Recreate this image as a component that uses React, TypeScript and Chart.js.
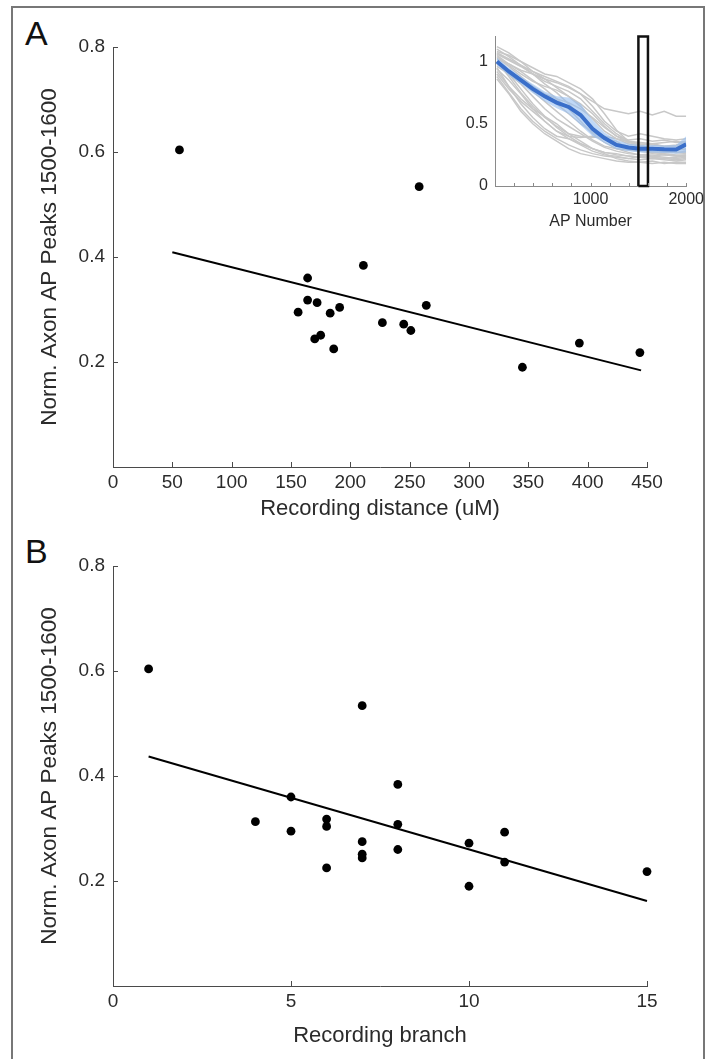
import React, { useEffect, useRef } from 'react';
import { Chart, registerables } from 'chart.js';

Chart.register(...registerables);

// ---------- Data: panel A / B (same 19 recordings) ----------
const recordingDistance = [56, 258, 211, 164, 164, 172, 156, 183, 191, 264, 227, 245, 251, 175, 170, 186, 345, 393, 444];
const recordingBranch = [1, 7, 8, 5, 6, 4, 5, 11, 6, 8, 7, 10, 8, 7, 7, 6, 10, 11, 15];
const normPeaks = [0.604, 0.534, 0.384, 0.36, 0.318, 0.313, 0.295, 0.293, 0.304, 0.308, 0.275, 0.272, 0.26, 0.251, 0.244, 0.225, 0.19, 0.236, 0.218];

const fitDistanceX = [50, 445];
const fitDistanceY = [0.409, 0.184];
const fitBranchX = [1, 15];
const fitBranchY = [0.437, 0.162];

const distanceTicks = [0, 50, 100, 150, 200, 250, 300, 350, 400, 450];
const branchTicks = [0, 5, 10, 15];
const peakTicks = [0.2, 0.4, 0.6, 0.8];

// ---------- Data: inset (normalized AP peaks vs AP number) ----------
const apNumber = [20, 145, 270, 395, 520, 645, 770, 895, 1020, 1145, 1270, 1395, 1520, 1645, 1770, 1895, 2000];
const meanPeak = [1.0, 0.92, 0.85, 0.78, 0.72, 0.67, 0.635, 0.57, 0.46, 0.385, 0.33, 0.31, 0.3, 0.3, 0.295, 0.293, 0.335];
const meanUpper = [1.03, 0.95, 0.88, 0.82, 0.76, 0.72, 0.71, 0.66, 0.53, 0.43, 0.37, 0.34, 0.33, 0.33, 0.325, 0.33, 0.4];
const meanLower = [0.97, 0.89, 0.82, 0.745, 0.68, 0.625, 0.58, 0.49, 0.4, 0.345, 0.295, 0.28, 0.27, 0.27, 0.265, 0.26, 0.27];
const cellTraces = [
  [0.86, 0.74, 0.6, 0.5, 0.42, 0.36, 0.3, 0.26, 0.24, 0.22, 0.2, 0.19, 0.19, 0.2, 0.18, 0.19, 0.19],
  [0.95, 0.8, 0.66, 0.55, 0.46, 0.4, 0.38, 0.33, 0.28, 0.25, 0.24, 0.22, 0.21, 0.22, 0.21, 0.2, 0.21],
  [0.9, 0.78, 0.68, 0.6, 0.52, 0.44, 0.4, 0.39, 0.4, 0.38, 0.36, 0.3, 0.28, 0.27, 0.26, 0.25, 0.25],
  [1.0, 0.9, 0.78, 0.66, 0.56, 0.47, 0.4, 0.34, 0.3, 0.27, 0.25, 0.24, 0.23, 0.24, 0.23, 0.22, 0.23],
  [1.05, 0.98, 0.92, 0.85, 0.78, 0.7, 0.62, 0.52, 0.42, 0.35, 0.3, 0.27, 0.25, 0.26, 0.25, 0.24, 0.24],
  [1.08, 1.05, 1.0, 0.95, 0.9, 0.88, 0.83, 0.78, 0.7, 0.58, 0.45, 0.36, 0.33, 0.34, 0.32, 0.33, 0.35],
  [1.02, 0.98, 0.93, 0.9, 0.86, 0.83, 0.79, 0.74, 0.68, 0.62, 0.6, 0.58, 0.6, 0.57, 0.6, 0.56, 0.56],
  [1.1, 1.04, 0.97, 0.9, 0.84, 0.8, 0.76, 0.7, 0.6, 0.5, 0.42, 0.36, 0.34, 0.33, 0.32, 0.32, 0.33],
  [0.98, 0.92, 0.85, 0.76, 0.68, 0.6, 0.52, 0.44, 0.37, 0.32, 0.3, 0.29, 0.28, 0.27, 0.28, 0.27, 0.27],
  [1.03, 0.96, 0.88, 0.8, 0.74, 0.7, 0.67, 0.62, 0.55, 0.47, 0.4, 0.35, 0.33, 0.3, 0.29, 0.3, 0.29],
  [0.94, 0.85, 0.74, 0.62, 0.52, 0.44, 0.38, 0.34, 0.3, 0.27, 0.26, 0.24, 0.23, 0.22, 0.22, 0.21, 0.22],
  [1.06, 1.01, 0.96, 0.9, 0.82, 0.75, 0.66, 0.56, 0.46, 0.39, 0.34, 0.31, 0.29, 0.28, 0.27, 0.27, 0.26],
  [0.92, 0.8, 0.7, 0.62, 0.56, 0.5, 0.42, 0.36, 0.3, 0.26, 0.22, 0.2, 0.19, 0.18, 0.19, 0.18, 0.18],
  [1.12, 1.07, 1.0, 0.92, 0.86, 0.79, 0.72, 0.66, 0.58, 0.48, 0.4, 0.37, 0.38, 0.36, 0.37, 0.35, 0.36],
  [0.99, 0.93, 0.86, 0.8, 0.72, 0.66, 0.58, 0.5, 0.43, 0.38, 0.34, 0.32, 0.3, 0.31, 0.3, 0.29, 0.3],
  [1.0, 0.88, 0.75, 0.64, 0.55, 0.48, 0.42, 0.4, 0.39, 0.4, 0.38, 0.34, 0.32, 0.3, 0.28, 0.27, 0.28],
  [1.04, 0.97, 0.9, 0.84, 0.8, 0.77, 0.72, 0.64, 0.54, 0.44, 0.38, 0.36, 0.35, 0.34, 0.35, 0.36, 0.34],
  [0.88, 0.75, 0.62, 0.52, 0.44, 0.38, 0.33, 0.29, 0.26, 0.24, 0.23, 0.22, 0.24, 0.23, 0.22, 0.23, 0.24],
  [1.07, 1.02, 0.97, 0.92, 0.88, 0.84, 0.8, 0.74, 0.64, 0.52, 0.44, 0.4, 0.42, 0.4, 0.38, 0.37, 0.38],
  [0.96, 0.9, 0.82, 0.72, 0.62, 0.54, 0.48, 0.42, 0.36, 0.31, 0.28, 0.26, 0.25, 0.24, 0.25, 0.24, 0.25],
];
const windowX = [1500, 1500, 1600, 1600, 1500];
const windowY = [0, 1.2, 1.2, 0, 0];
const insetXTicks = [0, 200, 400, 600, 800, 1000, 1200, 1400, 1600, 1800, 2000];
const insetXLabels = [1000, 2000];
const insetYTicks = [0, 0.5, 1];

// ---------- Styling ----------
const FONT = '"Liberation Sans", Arial, Helvetica, sans-serif';
const TXT = '#2b2b2b';
const AXIS = '#4a4a4a';
const BLUE = '#3a6fca';

const inwardTicks = {
  id: 'inwardTicks',
  afterDraw(chart: any, _args: any, opts: any) {
    const { ctx, chartArea } = chart;
    const xs = chart.scales.x;
    const ys = chart.scales.y;
    ctx.save();
    ctx.strokeStyle = opts.color || AXIS;
    ctx.lineWidth = 1;
    ctx.beginPath();
    if (opts.xLen) {
      xs.ticks.forEach((t: any) => {
        const px = Math.round(xs.getPixelForValue(t.value)) + 0.5;
        ctx.moveTo(px, chartArea.bottom);
        ctx.lineTo(px, chartArea.bottom - opts.xLen);
      });
    }
    if (opts.yLen) {
      ys.ticks.forEach((t: any) => {
        const py = Math.round(ys.getPixelForValue(t.value)) + 0.5;
        ctx.moveTo(chartArea.left, py);
        ctx.lineTo(chartArea.left + opts.yLen, py);
      });
    }
    ctx.stroke();
    ctx.restore();
  },
};

function pts(xs: number[], ys: number[]) {
  return xs.map((x, i) => ({ x, y: ys[i] }));
}

function mainConfig(p: {
  xs: number[];
  fitX: number[];
  fitY: number[];
  xTicks: number[];
  xMax: number;
  xTitle: string;
  padTop: number;
  xScaleH: number;
  xTitlePad: number;
}): any {
  return {
    type: 'scatter',
    data: {
      datasets: [
        {
          data: pts(p.xs, normPeaks),
          backgroundColor: '#000',
          borderColor: '#000',
          pointRadius: 4.4,
          pointHoverRadius: 4.4,
          borderWidth: 0,
          clip: false,
          order: 0,
        },
        {
          data: pts(p.fitX, p.fitY),
          showLine: true,
          borderColor: '#000',
          borderWidth: 2,
          pointRadius: 0,
          clip: false,
          order: 1,
        },
      ],
    },
    options: {
      responsive: false,
      animation: false,
      events: [],
      layout: { padding: { top: p.padTop, right: 61, left: 0, bottom: 0 } },
      plugins: {
        legend: { display: false },
        tooltip: { enabled: false },
        inwardTicks: { xLen: 5, yLen: 5, color: AXIS },
      },
      scales: {
        x: {
          type: 'linear',
          min: 0,
          max: p.xMax,
          afterBuildTicks: (s: any) => {
            s.ticks = p.xTicks.map((v) => ({ value: v }));
          },
          afterFit: (s: any) => {
            s.height = p.xScaleH;
          },
          grid: { display: false, drawTicks: false },
          border: { display: true, color: AXIS, width: 1 },
          ticks: {
            padding: 4,
            color: TXT,
            font: { family: FONT, size: 19 },
            autoSkip: false,
            maxRotation: 0,
            callback: (v: any) => String(v),
          },
          title: {
            display: true,
            text: p.xTitle,
            color: TXT,
            font: { family: FONT, size: 22 },
            padding: { top: 0, bottom: p.xTitlePad },
          },
        },
        y: {
          type: 'linear',
          min: 0,
          max: 0.8,
          afterBuildTicks: (s: any) => {
            s.ticks = peakTicks.map((v) => ({ value: v }));
          },
          afterFit: (s: any) => {
            s.width = 113;
          },
          grid: { display: false, drawTicks: false },
          border: { display: true, color: AXIS, width: 1 },
          ticks: {
            padding: 8,
            color: TXT,
            font: { family: FONT, size: 19 },
            autoSkip: false,
            callback: (v: any) => Number(v).toFixed(1),
          },
          title: {
            display: true,
            text: 'Norm. Axon AP Peaks 1500-1600',
            color: TXT,
            font: { family: FONT, size: 22.5 },
            padding: { top: 36, bottom: 0 },
          },
        },
      },
    },
    plugins: [inwardTicks],
  };
}

function insetConfig(): any {
  const line = (xs: number[], ys: number[], extra: any) => ({
    data: pts(xs, ys),
    pointRadius: 0,
    pointHoverRadius: 0,
    tension: 0,
    ...extra,
  });
  return {
    type: 'line',
    data: {
      datasets: [
        line(windowX, windowY, { borderColor: '#111', borderWidth: 2.5, fill: false, order: 0, clip: 6 }),
        line(apNumber, meanPeak, { borderColor: BLUE, borderWidth: 4, fill: false, order: 1 }),
        line(apNumber, meanUpper, {
          borderColor: 'rgba(0,0,0,0)',
          borderWidth: 1,
          fill: '+1',
          backgroundColor: 'rgba(150,190,240,0.6)',
          order: 2,
        }),
        line(apNumber, meanLower, { borderColor: 'rgba(0,0,0,0)', borderWidth: 1, fill: false, order: 2 }),
        ...cellTraces.map((tr) =>
          line(apNumber, tr, { borderColor: '#c8c8c8', borderWidth: 1.5, fill: false, order: 3 })
        ),
      ],
    },
    options: {
      responsive: false,
      animation: false,
      events: [],
      layout: { padding: { top: 15, right: 21, left: 0, bottom: 0 } },
      plugins: {
        legend: { display: false },
        tooltip: { enabled: false },
        inwardTicks: { xLen: 3, yLen: 0, color: '#8a8a8a' },
      },
      scales: {
        x: {
          type: 'linear',
          min: 0,
          max: 2000,
          afterBuildTicks: (s: any) => {
            s.ticks = insetXTicks.map((v) => ({ value: v }));
          },
          afterFit: (s: any) => {
            s.height = 54;
          },
          grid: { display: false, drawTicks: false },
          border: { display: true, color: '#8a8a8a', width: 1 },
          ticks: {
            padding: 4,
            color: TXT,
            font: { family: FONT, size: 16 },
            autoSkip: false,
            maxRotation: 0,
            callback: (v: any) => (insetXLabels.includes(v) ? String(v) : ''),
          },
          title: {
            display: true,
            text: 'AP Number',
            color: TXT,
            font: { family: FONT, size: 16 },
            padding: { top: 0, bottom: 9 },
          },
        },
        y: {
          type: 'linear',
          min: 0,
          max: 1.2,
          afterBuildTicks: (s: any) => {
            s.ticks = insetYTicks.map((v) => ({ value: v }));
          },
          afterFit: (s: any) => {
            s.width = 65;
          },
          grid: { display: false, drawTicks: false },
          border: { display: true, color: '#8a8a8a', width: 1 },
          ticks: {
            padding: 7,
            color: TXT,
            font: { family: FONT, size: 16 },
            autoSkip: false,
            callback: (v: any) => String(v),
          },
        },
      },
    },
    plugins: [inwardTicks],
  };
}

function ChartCanvas(props: { config: () => any; left: number; top: number; width: number; height: number }) {
  const ref = useRef<HTMLCanvasElement>(null);
  useEffect(() => {
    if (!ref.current) return;
    const chart = new Chart(ref.current, props.config());
    return () => chart.destroy();
  }, []);
  return (
    <canvas
      ref={ref}
      width={props.width}
      height={props.height}
      style={{ position: 'absolute', left: props.left, top: props.top, width: props.width, height: props.height }}
    />
  );
}

export default function App() {
  const letter = (t: string, top: number) => (
    <div
      style={{
        position: 'absolute',
        left: 25,
        top,
        fontFamily: FONT,
        fontSize: 34,
        lineHeight: '34px',
        color: '#111',
      }}
    >
      {t}
    </div>
  );
  return (
    <div
      style={{
        position: 'absolute',
        left: 0,
        top: 0,
        width: 708,
        height: 1059,
        overflow: 'hidden',
        background: '#fff',
      }}
    >
      <div
        style={{
          position: 'absolute',
          left: 11,
          top: 6,
          width: 694,
          height: 1100,
          boxSizing: 'border-box',
          borderLeft: '2px solid #777',
          borderTop: '2px solid #777',
          borderRight: '2px solid #777',
        }}
      />
      {letter('A', 16)}
      {letter('B', 534)}
      <ChartCanvas
        left={0}
        top={0}
        width={708}
        height={530}
        config={() =>
          mainConfig({
            xs: recordingDistance,
            fitX: fitDistanceX,
            fitY: fitDistanceY,
            xTicks: distanceTicks,
            xMax: 450,
            xTitle: 'Recording distance (uM)',
            padTop: 47,
            xScaleH: 63,
            xTitlePad: 8,
          })
        }
      />
      <ChartCanvas left={430} top={20} width={278} height={220} config={insetConfig} />
      <ChartCanvas
        left={0}
        top={520}
        width={708}
        height={539}
        config={() =>
          mainConfig({
            xs: recordingBranch,
            fitX: fitBranchX,
            fitY: fitBranchY,
            xTicks: branchTicks,
            xMax: 15,
            xTitle: 'Recording branch',
            padTop: 46,
            xScaleH: 73,
            xTitlePad: 10,
          })
        }
      />
    </div>
  );
}
